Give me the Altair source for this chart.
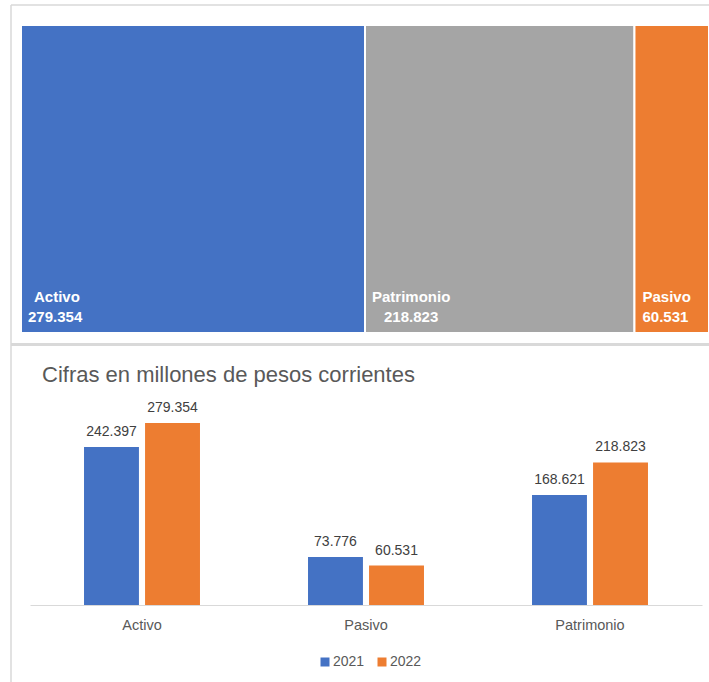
import altair as alt
import pandas as pd

# ---- data ----
tm_names = ["Activo", "Patrimonio", "Pasivo"]
tm_values = [279.354, 218.823, 60.531]
tm_labels = ["279.354", "218.823", "60.531"]

categories = ["Activo", "Pasivo", "Patrimonio"]
years = ["2021", "2022"]
values_2021 = [242.397, 73.776, 168.621]
values_2022 = [279.354, 60.531, 218.823]
title_text = "Cifras en millones de pesos corrientes"

BLUE = "#4472C4"
ORANGE = "#ED7D31"
GRAY = "#A5A5A5"
FRAME = "#D9D9D9"
TXT = "#595959"
FONT = "Liberation Sans"

# ---- treemap (top) ----
tm = pd.DataFrame({"name": tm_names, "value": tm_values, "label": tm_labels})
tm["end"] = tm["value"].cumsum()
tm["start"] = tm["end"] - tm["value"]
total = float(tm["value"].sum())

xs = alt.Scale(domain=[0, total], range=[21, 709])

rects = alt.Chart(tm).mark_rect(stroke="white", strokeWidth=2).encode(
    x=alt.X("start:Q", scale=xs, axis=None),
    x2="end:Q",
    y=alt.value(25),
    y2=alt.value(333),
    color=alt.Color("name:N", scale=alt.Scale(domain=tm_names, range=[BLUE, GRAY, ORANGE]), legend=None),
)

name_dx = {"Activo": 13, "Patrimonio": 7, "Pasivo": 8}
val_dx = {"Activo": 7, "Patrimonio": 19, "Pasivo": 8}
tm_texts = []
for n in tm_names:
    base = alt.Chart(tm).transform_filter(alt.datum.name == n)
    tm_texts.append(
        base.mark_text(align="left", baseline="middle", dx=name_dx[n], fontSize=15,
                       fontWeight="bold", color="white", font=FONT).encode(
            x=alt.X("start:Q", scale=xs, axis=None), y=alt.value(297), text="name:N")
    )
    tm_texts.append(
        base.mark_text(align="left", baseline="middle", dx=val_dx[n], fontSize=15,
                       fontWeight="bold", color="white", font=FONT).encode(
            x=alt.X("start:Q", scale=xs, axis=None), y=alt.value(317), text="label:N")
    )

top = alt.layer(rects, *tm_texts)

# ---- grouped bars (bottom) ----
bars_df = pd.DataFrame({
    "cat": categories * 2,
    "year": [years[0]] * 3 + [years[1]] * 3,
    "value": values_2021 + values_2022,
})
bars_df["label"] = bars_df["value"].map(lambda v: f"{v:.3f}")

xb = alt.Scale(domain=categories, range=[30, 702], paddingInner=0, paddingOuter=0)
xo = alt.Scale(domain=years, paddingInner=0.1, paddingOuter=0.885)
yb = alt.Scale(domain=[0, 300], range=[605, 409.5])

xaxis = alt.Axis(orient="bottom", offset=-77, title=None, ticks=False,
                 domainColor=FRAME, domainWidth=1, labelColor=TXT,
                 labelFontSize=14.5, labelPadding=13, labelAngle=0, labelFont=FONT)

bars = alt.Chart(bars_df).mark_bar().encode(
    x=alt.X("cat:N", scale=xb, sort=categories, axis=xaxis),
    xOffset=alt.XOffset("year:N", scale=xo),
    y=alt.Y("value:Q", scale=yb, axis=None),
    color=alt.Color("year:N", scale=alt.Scale(domain=years, range=[BLUE, ORANGE]),
                    legend=alt.Legend(orient="none", legendX=318, legendY=655, direction="horizontal",
                                      title=None, symbolType="square", symbolSize=81,
                                      symbolStrokeWidth=0, labelFontSize=14, labelColor=TXT,
                                      labelFont=FONT, columnPadding=10, labelOffset=1)),
)

bar_labels = alt.Chart(bars_df).mark_text(baseline="bottom", dy=-8, fontSize=14,
                                          color="#404040", font=FONT).encode(
    x=alt.X("cat:N", scale=xb, sort=categories, axis=xaxis),
    xOffset=alt.XOffset("year:N", scale=xo),
    y=alt.Y("value:Q", scale=yb, axis=None),
    text="label:N",
)

title_df = pd.DataFrame({"t": [title_text]})
title_mark = alt.Chart(title_df).mark_text(align="left", baseline="middle", fontSize=22,
                                           color=TXT, font=FONT).encode(
    x=alt.value(42), y=alt.value(375), text="t:N")

bottom = alt.layer(bars, bar_labels, title_mark)

# ---- frame lines ----
dummy = pd.DataFrame({"d": [0]})
frame_top = alt.Chart(dummy).mark_rule(color=FRAME, strokeWidth=1.5).encode(
    x=alt.value(11), x2=alt.value(709), y=alt.value(5))
frame_left = alt.Chart(dummy).mark_rule(color=FRAME, strokeWidth=1.5).encode(
    x=alt.value(11), y=alt.value(5), y2=alt.value(682))
frame_sep = alt.Chart(dummy).mark_rule(color=FRAME, strokeWidth=3).encode(
    x=alt.value(11), x2=alt.value(709), y=alt.value(344.5))

chart = alt.layer(frame_top, frame_left, frame_sep, top, bottom).resolve_scale(
    x="independent", y="independent", color="independent", xOffset="independent"
).properties(
    width=709, height=682, padding=0,
    autosize=alt.AutoSizeParams(type="none"),
    background="white",
).configure_view(stroke=None)

chart.save("out.html", embed_options={"renderer": "svg", "actions": False})
